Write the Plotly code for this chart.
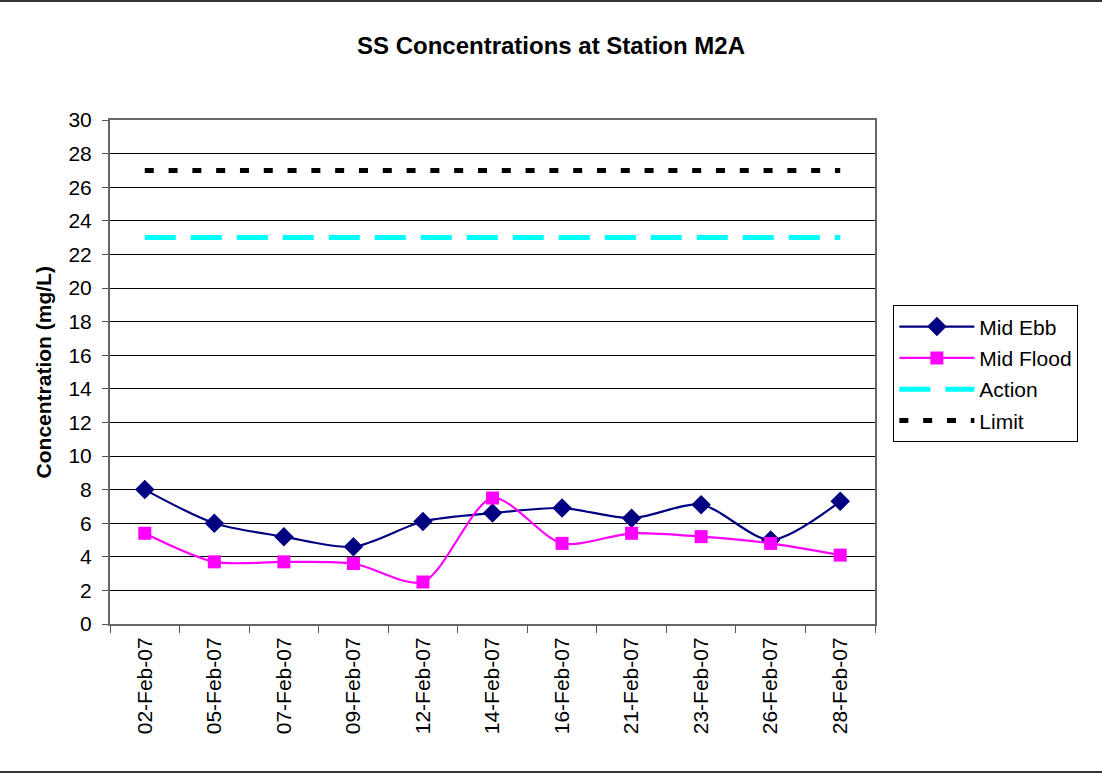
import plotly.graph_objects as go

# Sampling dates (categorical x axis)
dates = ["02-Feb-07", "05-Feb-07", "07-Feb-07", "09-Feb-07", "12-Feb-07",
         "14-Feb-07", "16-Feb-07", "21-Feb-07", "23-Feb-07", "26-Feb-07", "28-Feb-07"]

# Suspended solids, mg/L
mid_ebb = [8.0, 6.0, 5.2, 4.6, 6.1, 6.6, 6.9, 6.3, 7.1, 5.0, 7.3]
mid_flood = [5.4, 3.7, 3.7, 3.6, 2.5, 7.5, 4.8, 5.4, 5.2, 4.8, 4.1]

# Compliance levels, mg/L
action_level = [23] * len(dates)
limit_level = [27] * len(dates)

FONT = "Liberation Sans, Arial, sans-serif"

fig = go.Figure()

fig.add_trace(go.Scatter(
    x=dates, y=mid_ebb, name="Mid Ebb", mode="lines+markers",
    line=dict(color="#000080", width=2.2, shape="spline", smoothing=0.8),
    marker=dict(symbol="diamond", size=15, color="#000080"),
    legendgroup="a",
))
fig.add_trace(go.Scatter(
    x=dates, y=mid_flood, name="Mid Flood", mode="lines+markers",
    line=dict(color="#FF00FF", width=2.2, shape="spline", smoothing=0.8),
    marker=dict(symbol="square", size=13, color="#FF00FF"),
    legendgroup="b",
))
fig.add_trace(go.Scatter(
    x=dates, y=action_level, name="Action", mode="lines",
    line=dict(color="#00FFFF", width=5, dash="31px,15px"),
    legendgroup="c",
))
fig.add_trace(go.Scatter(
    x=dates, y=limit_level, name="Limit", mode="lines",
    line=dict(color="#000000", width=5, dash="9px,14.8px"),
    legendgroup="d",
))

fig.update_layout(
    width=1102, height=777,
    margin=dict(l=110, r=227, t=120, b=153),
    paper_bgcolor="white", plot_bgcolor="white",
    font=dict(family=FONT, size=21, color="black"),
    title=dict(
        text="<b>SS Concentrations at Station M2A</b>",
        x=0.5, xref="container", xanchor="center",
        y=1 - 46 / 777, yanchor="middle",
        font=dict(family=FONT, size=24, color="black"),
    ),
    showlegend=True,
    legend=dict(
        x=1.024, xanchor="left", y=0.632, yanchor="top",
        bordercolor="black", borderwidth=1,
        font=dict(family=FONT, size=21, color="black"),
        itemwidth=75, tracegroupgap=1,
        bgcolor="white",
    ),
    xaxis=dict(
        type="category", range=[-0.5, 10.5],
        tickson="boundaries", ticks="outside", ticklen=7, tickcolor="#555",
        tickangle=-90, tickfont=dict(family=FONT, size=21),
        ticklabelstandoff=3,
        showline=True, linecolor="#666", linewidth=2, mirror=True,
        showgrid=False,
    ),
    yaxis=dict(
        range=[0, 30], dtick=2, tick0=0,
        ticks="outside", ticklen=6, tickcolor="#555",
        tickfont=dict(family=FONT, size=21),
        ticklabelstandoff=6,
        showline=True, linecolor="#666", linewidth=2, mirror=True,
        showgrid=True, gridcolor="black", gridwidth=1,
        zeroline=False,
    ),
    annotations=[dict(
        text="<b>Concentration (mg/L)</b>",
        xref="paper", yref="paper", x=-0.087, y=0.5,
        xanchor="center", yanchor="middle", textangle=-90, showarrow=False,
        font=dict(family=FONT, size=21, color="black"),
    )],
    shapes=[
        # frame lines across the top and bottom of the page
        dict(type="line", xref="paper", yref="paper",
             x0=-0.2, x1=1.4, y0=1 + 119 / 504, y1=1 + 119 / 504,
             line=dict(color="#333", width=2)),
        dict(type="line", xref="paper", yref="paper",
             x0=-0.2, x1=1.4, y0=-148 / 504, y1=-148 / 504,
             line=dict(color="#333", width=2)),
    ],
)

fig.write_html("out.html")
